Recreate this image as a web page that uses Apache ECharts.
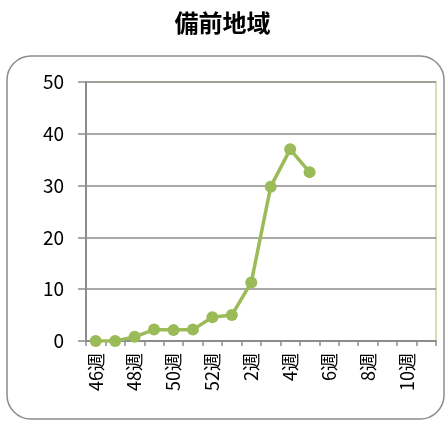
<!DOCTYPE html>
<html><head><meta charset="utf-8">
<script src="https://cdn.jsdelivr.net/npm/echarts@6/dist/echarts.min.js"></script>
<style>html,body{margin:0;padding:0;background:#fff}#c{width:445px;height:421px}</style>
</head><body><div id="c"></div>
<script>
const categories = ['46週','47週','48週','49週','50週','51週','52週','1週','2週','3週','4週','5週','6週','7週','8週','9週','10週','11週'];
const values = [0, 0, 0.8, 2.2, 2.1, 2.2, 4.6, 5.0, 11.3, 29.8, 37.0, 32.6, null, null, null, null, null, null];
const yTicks = {min: 0, max: 50, interval: 10};
const FONT = '"Noto Sans CJK JP", "Noto Sans", sans-serif';
const chart = echarts.init(document.getElementById('c'), null, {renderer: 'canvas'});
chart.setOption({
  animation: false,
  backgroundColor: '#fff',
  title: {text: '備前地域', left: 'center', top: 6,
    textStyle: {fontFamily: FONT, fontSize: 24, fontWeight: 'bold', color: '#000'}},
  graphic: [{type: 'rect', shape: {x: 7, y: 56, width: 437, height: 363, r: 24},
    style: {fill: 'none', stroke: '#8c8c8c', lineWidth: 1.5}, z: -1}],
  grid: {left: 86, right: 9, top: 82, bottom: 80, show: true, borderColor: '#c3d69b', borderWidth: 1.5, backgroundColor: 'transparent'},
  xAxis: {type: 'category', data: categories, boundaryGap: true,
    axisLine: {lineStyle: {color: '#8c8c8c', width: 2}},
    axisTick: {show: true, length: 5, interval: 0, lineStyle: {color: '#8c8c8c', width: 1.5}},
    axisLabel: {rotate: 90, interval: 1, fontFamily: FONT, fontSize: 18, color: '#000', margin: 12}},
  yAxis: {type: 'value', min: yTicks.min, max: yTicks.max, interval: yTicks.interval,
    axisLine: {show: true, lineStyle: {color: '#8c8c8c', width: 2}},
    axisTick: {show: true, inside: false, length: 8, lineStyle: {color: '#8c8c8c', width: 1.5}},
    splitLine: {lineStyle: {color: '#8c8c8c', width: 1.5}},
    axisLabel: {fontFamily: FONT, fontSize: 19, color: '#000', margin: 22}},
  series: [{type: 'line', data: values, symbol: 'circle', symbolSize: 12,
    lineStyle: {color: '#9bbb59', width: 3.5}, itemStyle: {color: '#9bbb59'}, connectNulls: false}]
});
</script></body></html>
